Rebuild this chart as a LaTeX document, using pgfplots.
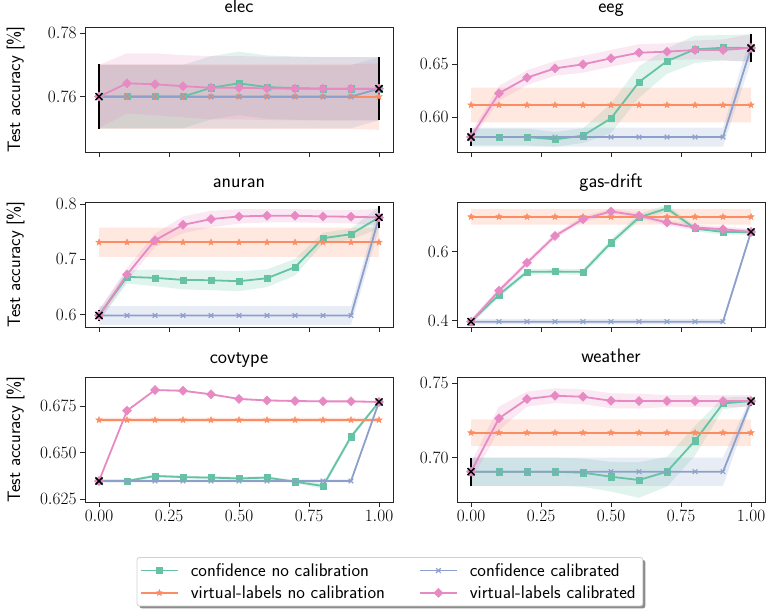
\documentclass[border=0pt]{standalone}
\usepackage{pgfplots}
\usepgfplotslibrary{fillbetween}
\usepackage{pgfplotstable}
\usetikzlibrary{shadows}
\pgfplotsset{compat=1.18}

\definecolor{cgreen}{HTML}{66C2A5}
\definecolor{corange}{HTML}{FC8D62}
\definecolor{cblue}{HTML}{8DA0CB}
\definecolor{cpink}{HTML}{E78AC3}

\makeatletter
\tikzset{nopre/.code={\let\tikz@preactions\pgfutil@empty\let\tikz@postactions\pgfutil@empty}}
\makeatother

\pgfdeclareplotmark{fstar}{%
 \pgfpathmoveto{\pgfpointpolar{90}{\pgfplotmarksize}}%
 \pgfpathlineto{\pgfpointpolar{126}{0.42\pgfplotmarksize}}%
 \pgfpathlineto{\pgfpointpolar{162}{\pgfplotmarksize}}%
 \pgfpathlineto{\pgfpointpolar{198}{0.42\pgfplotmarksize}}%
 \pgfpathlineto{\pgfpointpolar{234}{\pgfplotmarksize}}%
 \pgfpathlineto{\pgfpointpolar{270}{0.42\pgfplotmarksize}}%
 \pgfpathlineto{\pgfpointpolar{306}{\pgfplotmarksize}}%
 \pgfpathlineto{\pgfpointpolar{342}{0.42\pgfplotmarksize}}%
 \pgfpathlineto{\pgfpointpolar{18}{\pgfplotmarksize}}%
 \pgfpathlineto{\pgfpointpolar{54}{0.42\pgfplotmarksize}}%
 \pgfpathclose
 \pgfusepathqfillstroke
}

\newcommand\fs{\fontsize{16}{19}\selectfont}
\newcommand\fl{\fontsize{18}{21}\selectfont}
\newcommand\fg{\fontsize{18.3}{21}\selectfont}
\newcommand\ft{\fontsize{19.5}{23}\selectfont}

\pgfplotsset{
 sGreen/.style={color=cgreen, line width=1.8pt, mark=square*, mark size=3.1pt, mark options={line width=0.5pt}},
 sOrange/.style={color=corange, line width=1.8pt, mark=fstar, mark size=3.4pt, mark options={line width=0.4pt}},
 sBlue/.style={color=cblue, line width=1.8pt, mark=x, mark size=3.3pt, mark options={line width=1.1pt}},
 sPink/.style={color=cpink, line width=1.8pt, mark=square*, mark size=3.2pt, mark options={rotate=45, line width=0.5pt}},
 myaxis/.style={
  scale only axis, width=308pt, height=125pt,
  xmin=-0.05, xmax=1.05,
  xtick={0,0.25,0.5,0.75,1},
  xticklabels={},
  tick align=outside, tick pos=left,
  major tick length=5pt,
  every tick/.style={black!85, line width=0.8pt},
  axis line style={black!85, line width=0.8pt},
  tick label style={font=\fs},
  title style={font=\sffamily\ft, anchor=base, at={(axis description cs:0.5,1)}, yshift=8pt, inner sep=0pt},
  ylabel style={font=\sffamily\fl, at={(axis description cs:-0.2256,0.5)}, anchor=center},
  legend image code/.code={\draw[nopre, mark repeat=2,mark phase=2,#1] plot coordinates {(0pt,0pt) (18.5pt,0pt) (37pt,0pt)};},
 },
 botx/.style={xticklabels={$0.00$,$0.25$,$0.50$,$0.75$,$1.00$}},
}

\newcommand\band[4]{%
 \addplot[draw=none, no markers, forget plot, name path=U#2] table[x=x, y expr=\thisrow{#2}+\thisrow{#3}] {#1};
 \addplot[draw=none, no markers, forget plot, name path=L#2] table[x=x, y expr=\thisrow{#2}-\thisrow{#3}] {#1};
 \addplot[fill=#4, fill opacity=0.2, draw=none, forget plot] fill between[of=U#2 and L#2];
}
\newcommand\allseries[1]{%
 \band{#1}{cn}{cne}{cgreen}
 \band{#1}{vn}{vne}{corange}
 \band{#1}{cc}{cce}{cblue}
 \band{#1}{vc}{vce}{cpink}
 \addplot[sGreen, forget plot] table[x=x, y=cn] {#1};
 \addplot[sOrange, forget plot] table[x=x, y=vn] {#1};
 \addplot[sBlue, forget plot] table[x=x, y=cc] {#1};
 \addplot[sPink, forget plot] table[x=x, y=vc] {#1};
}
\newcommand\tips[4]{% y0 e0 y1 e1
 \addplot[black, only marks, mark=x, mark size=5pt, mark options={line width=1.5pt}, forget plot,
   error bars/.cd, y dir=both, y explicit, error mark=none,
   error bar style={line width=1.8pt, black}]
   coordinates {(0,#1) +- (0,#2) (1,#3) +- (0,#4)};
}

\pgfplotstableread{
x cn cne vn vne cc cce vc vce
0.0 0.7600 0.0100 0.7600 0.0102 0.7600 0.0100 0.7600 0.0100
0.1 0.7600 0.0100 0.7600 0.0102 0.7600 0.0100 0.7642 0.0095
0.2 0.7600 0.0100 0.7600 0.0102 0.7600 0.0100 0.7639 0.0098
0.3 0.7600 0.0100 0.7600 0.0102 0.7600 0.0100 0.7633 0.0098
0.4 0.7628 0.0100 0.7600 0.0102 0.7600 0.0100 0.7628 0.0100
0.5 0.7642 0.0100 0.7600 0.0102 0.7600 0.0100 0.7628 0.0100
0.6 0.7630 0.0100 0.7600 0.0102 0.7600 0.0100 0.7626 0.0100
0.7 0.7627 0.0100 0.7600 0.0102 0.7600 0.0100 0.7625 0.0100
0.8 0.7625 0.0100 0.7600 0.0102 0.7600 0.0100 0.7625 0.0100
0.9 0.7625 0.0100 0.7600 0.0102 0.7600 0.0100 0.7625 0.0100
1.0 0.7625 0.0100 0.7600 0.0105 0.7625 0.0100 0.7625 0.0100
}\Telec

\pgfplotstableread{
x cn cne vn vne cc cce vc vce
0.0 0.5810 0.0080 0.6114 0.0165 0.5810 0.0090 0.5810 0.0040
0.1 0.5810 0.0080 0.6114 0.0165 0.5810 0.0090 0.6225 0.0070
0.2 0.5810 0.0080 0.6114 0.0165 0.5810 0.0090 0.6373 0.0070
0.3 0.5788 0.0070 0.6114 0.0165 0.5810 0.0090 0.6462 0.0070
0.4 0.5823 0.0070 0.6114 0.0165 0.5810 0.0090 0.6500 0.0080
0.5 0.5987 0.0140 0.6114 0.0165 0.5810 0.0090 0.6557 0.0080
0.6 0.6332 0.0150 0.6114 0.0165 0.5810 0.0090 0.6610 0.0080
0.7 0.6530 0.0120 0.6114 0.0165 0.5810 0.0090 0.6620 0.0080
0.8 0.6642 0.0130 0.6114 0.0165 0.5810 0.0090 0.6636 0.0090
0.9 0.6657 0.0120 0.6114 0.0165 0.5810 0.0090 0.6636 0.0100
1.0 0.6655 0.0130 0.6114 0.0165 0.6655 0.0130 0.6655 0.0130
}\Teeg

\pgfplotstableread{
x cn cne vn vne cc cce vc vce
0.0 0.5988 0.0100 0.7309 0.0265 0.5988 0.0170 0.5988 0.0100
0.1 0.6685 0.0120 0.7309 0.0265 0.5988 0.0170 0.6727 0.0120
0.2 0.6667 0.0150 0.7309 0.0265 0.5988 0.0170 0.7345 0.0120
0.3 0.6630 0.0170 0.7309 0.0265 0.5988 0.0170 0.7624 0.0150
0.4 0.6624 0.0180 0.7309 0.0265 0.5988 0.0170 0.7727 0.0150
0.5 0.6606 0.0180 0.7309 0.0265 0.5988 0.0170 0.7776 0.0130
0.6 0.6660 0.0160 0.7309 0.0265 0.5988 0.0170 0.7788 0.0120
0.7 0.6860 0.0150 0.7309 0.0265 0.5988 0.0170 0.7788 0.0120
0.8 0.7382 0.0100 0.7309 0.0265 0.5988 0.0170 0.7776 0.0120
0.9 0.7455 0.0100 0.7309 0.0265 0.5988 0.0170 0.7770 0.0120
1.0 0.7758 0.0200 0.7309 0.0265 0.7758 0.0200 0.7758 0.0150
}\Tanuran

\pgfplotstableread{
x cn cne vn vne cc cce vc vce
0.0 0.3970 0.0080 0.7015 0.0230 0.3970 0.0080 0.3970 0.0080
0.1 0.4751 0.0080 0.7015 0.0230 0.3970 0.0080 0.4868 0.0080
0.2 0.5415 0.0080 0.7015 0.0230 0.3970 0.0080 0.5678 0.0080
0.3 0.5424 0.0080 0.7015 0.0230 0.3970 0.0080 0.6459 0.0080
0.4 0.5415 0.0080 0.7015 0.0230 0.3970 0.0080 0.6946 0.0080
0.5 0.6263 0.0100 0.7015 0.0230 0.3970 0.0080 0.7171 0.0080
0.6 0.6995 0.0100 0.7015 0.0230 0.3970 0.0080 0.7044 0.0080
0.7 0.7259 0.0100 0.7015 0.0230 0.3970 0.0080 0.6849 0.0080
0.8 0.6673 0.0080 0.7015 0.0230 0.3970 0.0080 0.6702 0.0080
0.9 0.6576 0.0080 0.7015 0.0230 0.3970 0.0080 0.6654 0.0080
1.0 0.6576 0.0080 0.7015 0.0230 0.6576 0.0080 0.6576 0.0080
}\Tgas

\pgfplotstableread{
x cn cne vn vne cc cce vc vce
0.0 0.6347 0.0008 0.6675 0.0012 0.6347 0.0008 0.6347 0.0005
0.1 0.6347 0.0008 0.6675 0.0012 0.6347 0.0008 0.6725 0.0005
0.2 0.6374 0.0008 0.6675 0.0012 0.6347 0.0008 0.6836 0.0005
0.3 0.6368 0.0008 0.6675 0.0012 0.6347 0.0008 0.6832 0.0005
0.4 0.6365 0.0008 0.6675 0.0012 0.6347 0.0008 0.6813 0.0005
0.5 0.6361 0.0008 0.6675 0.0012 0.6347 0.0008 0.6788 0.0005
0.6 0.6365 0.0008 0.6675 0.0012 0.6347 0.0008 0.6780 0.0005
0.7 0.6343 0.0008 0.6675 0.0012 0.6347 0.0008 0.6777 0.0005
0.8 0.6320 0.0015 0.6675 0.0012 0.6347 0.0008 0.6775 0.0005
0.9 0.6585 0.0015 0.6675 0.0012 0.6347 0.0008 0.6775 0.0005
1.0 0.6772 0.0008 0.6675 0.0012 0.6772 0.0008 0.6772 0.0005
}\Tcov

\pgfplotstableread{
x cn cne vn vne cc cce vc vce
0.0 0.6906 0.0095 0.7168 0.0090 0.6906 0.0095 0.6906 0.0060
0.1 0.6906 0.0095 0.7168 0.0090 0.6906 0.0095 0.7265 0.0080
0.2 0.6906 0.0095 0.7168 0.0090 0.6906 0.0095 0.7395 0.0050
0.3 0.6906 0.0095 0.7168 0.0090 0.6906 0.0095 0.7417 0.0050
0.4 0.6899 0.0095 0.7168 0.0090 0.6906 0.0095 0.7410 0.0050
0.5 0.6872 0.0100 0.7168 0.0090 0.6906 0.0095 0.7383 0.0050
0.6 0.6850 0.0120 0.7168 0.0090 0.6906 0.0095 0.7381 0.0050
0.7 0.6906 0.0100 0.7168 0.0090 0.6906 0.0095 0.7381 0.0040
0.8 0.7114 0.0100 0.7168 0.0090 0.6906 0.0095 0.7381 0.0040
0.9 0.7365 0.0040 0.7168 0.0090 0.6906 0.0095 0.7381 0.0040
1.0 0.7381 0.0030 0.7168 0.0090 0.7381 0.0030 0.7381 0.0040
}\Tweather

\begin{document}
\begin{tikzpicture}

% elec
\begin{axis}[myaxis, at={(85pt,462pt)}, anchor=south west, title={elec},
  ylabel={Test accuracy [\%]},
  ymin=0.7425, ymax=0.782, ytick={0.76,0.78}, yticklabels={$0.76$,$0.78$}]
\allseries{\Telec}
\tips{0.7600}{0.0102}{0.7625}{0.0100}
\end{axis}

% eeg
\begin{axis}[myaxis, at={(457pt,462pt)}, anchor=south west, title={eeg},
  ymin=0.5668, ymax=0.6854, ytick={0.60,0.65}, yticklabels={$0.60$,$0.65$}]
\allseries{\Teeg}
\tips{0.5810}{0.0087}{0.6655}{0.0135}
\end{axis}

% anuran
\begin{axis}[myaxis, at={(85pt,287pt)}, anchor=south west, title={anuran},
  ylabel={Test accuracy [\%]},
  ymin=0.578, ymax=0.8036, ytick={0.6,0.7,0.8}, yticklabels={$0.6$,$0.7$,$0.8$}]
\allseries{\Tanuran}
\tips{0.5988}{0.0100}{0.7758}{0.0200}
\end{axis}

% gas-drift
\begin{axis}[myaxis, at={(457pt,287pt)}, anchor=south west, title={gas-drift},
  ymin=0.3815, ymax=0.7444, ytick={0.4,0.6}, yticklabels={$0.4$,$0.6$}]
\allseries{\Tgas}
\tips{0.3970}{0.0040}{0.6576}{0.0040}
\end{axis}

% covtype
\begin{axis}[myaxis, botx, at={(85pt,112pt)}, anchor=south west, title={covtype},
  ylabel={Test accuracy [\%]},
  ymin=0.6234, ymax=0.6906, ytick={0.625,0.650,0.675}, yticklabels={$0.625$,$0.650$,$0.675$},
  legend columns=2,
  legend style={at={(axis description cs:0.990,-0.44)}, anchor=north,
    font=\sffamily\fg, draw=black!18, line width=0.8pt, rounded corners=2.5pt, fill=white,
    general shadow={fill=black!45, shadow xshift=2.5pt, shadow yshift=-2.5pt},
    inner xsep=3pt, inner ysep=5pt, row sep=6pt,
    nodes={inner ysep=1pt, inner xsep=4pt},
    /tikz/every odd column/.append style={column sep=8pt},
    /tikz/every even column/.append style={column sep=30pt}},
  legend cell align=left]
\allseries{\Tcov}
\tips{0.6347}{0.0004}{0.6772}{0.0004}
\addlegendimage{sGreen}\addlegendentry{confidence no calibration}
\addlegendimage{sBlue}\addlegendentry{confidence calibrated}
\addlegendimage{sOrange}\addlegendentry{virtual-labels no calibration}
\addlegendimage{sPink}\addlegendentry{virtual-labels calibrated}
\end{axis}

% weather
\begin{axis}[myaxis, botx, at={(457pt,112pt)}, anchor=south west, title={weather},
  ymin=0.6702, ymax=0.7543, ytick={0.70,0.75}, yticklabels={$0.70$,$0.75$}]
\allseries{\Tweather}
\tips{0.6906}{0.0095}{0.7381}{0.0030}
\end{axis}

\pgfresetboundingbox
\path[use as bounding box] (0,0) rectangle (766pt,614pt);
\end{tikzpicture}
\end{document}
